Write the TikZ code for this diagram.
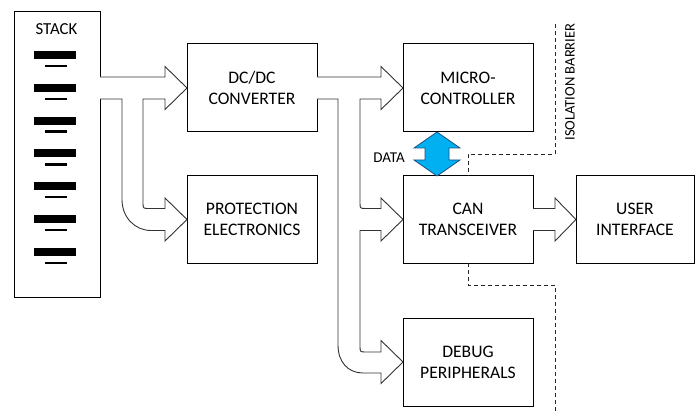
\documentclass[tikz,border=0pt]{standalone}
\usepackage{fontspec}
\setmainfont{Carlito}
\usetikzlibrary{calc}
\definecolor{datablue}{RGB}{0,176,240}
\definecolor{dataedge}{RGB}{30,80,130}
\begin{document}
\begin{tikzpicture}[x=1pt,y=-1pt,
  box/.style={draw=black, line width=1pt, fill=white, minimum width=130pt,
    minimum height=88pt, inner sep=2pt, outer sep=0pt, align=center,
    font=\fontsize{17.6}{21}\selectfont, text=black},
  fat/.style={draw=black!80, line width=0.9pt, fill=white, line join=miter},
  iso/.style={draw=black!85, line width=0.9pt, dash pattern=on 4pt off 3pt},
  small/.style={font=\fontsize{14.5}{17}\selectfont, inner sep=0pt, text=black},
  datafill/.style={fill=datablue, draw=dataedge, line width=0.8pt}
]
\useasboundingbox (0,0) rectangle (696,414);

% blocks
\node[box, minimum width=86pt, minimum height=285pt] (stack) at (57,154.5) {};
\node[box] (dcdc)  at (252,88)    {DC/DC\\CONVERTER};
\node[box, minimum height=87pt] (prot)  at (252,219.5) {PROTECTION\\ELECTRONICS};
\node[box] (micro) at (468,88)    {MICRO-\\CONTROLLER};
\node[box, minimum height=87pt] (can)   at (468,219.5) {CAN\\TRANSCEIVER};
\node[box] (debug) at (468,362)   {DEBUG\\PERIPHERALS};
\node[box, minimum width=118pt, minimum height=87pt] (user) at (635,219.5) {USER\\INTERFACE};

% stack of cells
\node[small, font=\fontsize{16.8}{19}\selectfont] (stacklbl) at (56.5,29) {STACK};
\foreach \k in {0,...,6}{
  \pgfmathsetmacro\yc{55+32.8*\k}
  \fill (34,\yc-4) rectangle (76,\yc+4);
  \fill (45,\yc+9.8) rectangle (67,\yc+12.2);
}

% power from the stack to the converter and the protection
\coordinate (sA) at (stack.east |- dcdc.west);
\draw[fat] ($(sA)+(0,-11)$)
  -- ($(dcdc.west)+(-22,-11)$) -- ($(dcdc.west)+(-22,-21.5)$) -- (dcdc.west)
  -- ($(dcdc.west)+(-22,21.5)$) -- ($(dcdc.west)+(-22,11)$)
  -- ($(dcdc.west)+(-44,11)$)
  -- ($(prot.west)+(-44,-17)$) .. controls ($(prot.west)+(-44,-11)$) .. ($(prot.west)+(-38,-11)$)
  -- ($(prot.west)+(-22,-11)$) -- ($(prot.west)+(-22,-21.5)$) -- (prot.west)
  -- ($(prot.west)+(-22,21.5)$) -- ($(prot.west)+(-22,11)$)
  -- ($(prot.west)+(-36,11)$) .. controls ($(prot.west)+(-52,11)$) and ($(prot.west)+(-65,-2)$) .. ($(prot.west)+(-65,-20)$)
  -- ($(dcdc.west)+(-65,11)$)
  -- ($(sA)+(0,11)$);

% power from the converter to the isolated side
\draw[fat] ($(dcdc.east)+(0,-11)$)
  -- ($(micro.west)+(-22,-11)$) -- ($(micro.west)+(-22,-21.5)$) -- (micro.west)
  -- ($(micro.west)+(-22,21.5)$) -- ($(micro.west)+(-22,11)$)
  -- ($(micro.west)+(-43,11)$)
  -- ($(can.west)+(-43,-17)$) .. controls ($(can.west)+(-43,-11)$) .. ($(can.west)+(-37,-11)$)
  -- ($(can.west)+(-22,-11)$) -- ($(can.west)+(-22,-21.5)$) -- (can.west)
  -- ($(can.west)+(-22,21.5)$) -- ($(can.west)+(-22,11)$)
  -- ($(can.west)+(-43,11)$)
  -- ($(debug.west)+(-43,-16)$) .. controls ($(debug.west)+(-43,-10)$) .. ($(debug.west)+(-37,-10)$)
  -- ($(debug.west)+(-22,-10)$) -- ($(debug.west)+(-22,-21.5)$) -- (debug.west)
  -- ($(debug.west)+(-22,21.5)$) -- ($(debug.west)+(-22,11)$)
  -- ($(debug.west)+(-40,11)$) .. controls ($(debug.west)+(-55,11)$) and ($(debug.west)+(-65,0)$) .. ($(debug.west)+(-65,-17)$)
  -- ($(dcdc.east)+(21,11)$)
  -- ($(dcdc.east)+(0,11)$);

% CAN to user interface
\draw[fat] ($(can.east)+(0,-11)$)
  -- ($(user.west)+(-21,-11)$) -- ($(user.west)+(-21,-21.5)$) -- (user.west)
  -- ($(user.west)+(-21,21.5)$) -- ($(user.west)+(-21,11)$)
  -- ($(can.east)+(0,11)$);

% data link between controller and transceiver
\coordinate (dT) at ($(micro.south)+(-31,0)$);
\coordinate (dB) at ($(can.north)+(-31,0)$);
\draw[datafill] (dT) -- ($(dT)+(23,16)$) -- ($(dT)+(12,16)$) -- ($(dB)+(12,-16)$)
  -- ($(dB)+(23,-16)$) -- (dB) -- ($(dB)+(-23,-16)$) -- ($(dB)+(-12,-16)$)
  -- ($(dT)+(-12,16)$) -- ($(dT)+(-23,16)$) -- cycle;
\node[small, font=\fontsize{15}{18}\selectfont] (datalbl) at (389,158) {DATA};

% isolation barrier
\coordinate (isoTop) at (555,24);
\coordinate (isoBot) at (555,414);
\draw[iso] (isoTop) -- (isoTop |- 0,154) -- (can.north |- 0,154) -- (can.north);
\draw[iso] (can.south) -- (can.south |- 0,285) -- (isoBot |- 0,285) -- (isoBot);
\node[small, rotate=90] (isolbl) at (570,82) {ISOLATION BARRIER};
\end{tikzpicture}
\end{document}
